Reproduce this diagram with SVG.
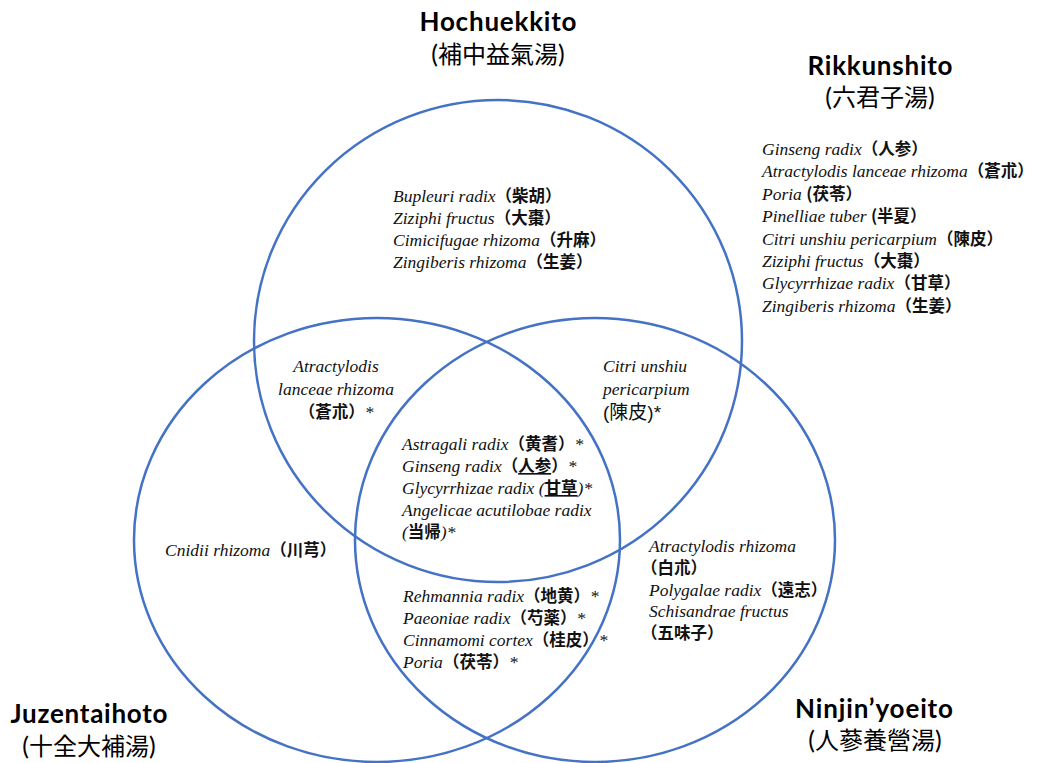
<svg xmlns="http://www.w3.org/2000/svg" width="1037" height="763" viewBox="0 0 1037 763">
<style>
.set{fill:none;stroke:#4472C4;stroke-width:2.5}
.title{font-family:Lato,"Liberation Sans","Noto Sans CJK JP",sans-serif;font-weight:bold;font-size:26px;fill:#000;text-anchor:middle}
.sub{font-family:Lato,"Noto Sans CJK JP",sans-serif;font-size:25px;fill:#000;text-anchor:middle}
.sc{font-family:"Noto Sans CJK JP",sans-serif;font-size:24px}
.b{font-family:"Liberation Serif","Noto Sans CJK JP",serif;font-style:italic;font-size:17.5px;fill:#111}
.cj{font-family:"Noto Sans CJK JP",sans-serif;font-style:normal;font-weight:bold;font-size:16.5px}
.cn{font-family:"Liberation Sans","Noto Sans CJK JP",sans-serif;font-style:normal;font-size:19px;fill:#111}
.u{text-decoration:underline}
</style>
<rect width="1037" height="763" fill="#fff"/>

<g id="hochuekkito">
<ellipse class="set" cx="498" cy="341" rx="244" ry="241"/>
<text class="title" x="498" y="31" textLength="157">Hochuekkito</text>
<text class="sub" x="498" y="63">(<tspan class="sc">補中益氣湯</tspan>)</text>
</g>

<g id="juzentaihoto">
<ellipse class="set" cx="377" cy="540" rx="243" ry="222"/>
<text class="title" x="89" y="723" textLength="157">Juzentaihoto</text>
<text class="sub" x="89" y="755">(<tspan class="sc">十全大補湯</tspan>)</text>
</g>

<g id="ninjinyoeito">
<ellipse class="set" cx="595" cy="540" rx="240" ry="222"/>
<text class="title" x="874" y="718" textLength="158">Ninjin’yoeito</text>
<text class="sub" x="875" y="749">(<tspan class="sc">人蔘養營湯</tspan>)</text>
</g>

<g id="rikkunshito">
<text class="title" x="880" y="75" textLength="145">Rikkunshito</text>
<text class="sub" x="880" y="106">(<tspan class="sc">六君子湯</tspan>)</text>
<text class="b" x="762" y="155">Ginseng radix<tspan class="cj">（人参）</tspan></text>
<text class="b" x="762" y="177.4">Atractylodis lanceae rhizoma<tspan class="cj">（蒼朮）</tspan></text>
<text class="b" x="762" y="199.8">Poria <tspan class="cj">(茯苓）</tspan></text>
<text class="b" x="762" y="222.2">Pinelliae tuber <tspan class="cj">(半夏）</tspan></text>
<text class="b" x="762" y="244.6">Citri unshiu pericarpium<tspan class="cj">（陳皮）</tspan></text>
<text class="b" x="762" y="267">Ziziphi fructus<tspan class="cj">（大棗）</tspan></text>
<text class="b" x="762" y="289.4">Glycyrrhizae radix<tspan class="cj">（甘草）</tspan></text>
<text class="b" x="762" y="311.8">Zingiberis rhizoma<tspan class="cj">（生姜）</tspan></text>
</g>

<g id="hochuekkito-only">
<text class="b" x="393" y="202">Bupleuri radix<tspan class="cj">（柴胡）</tspan></text>
<text class="b" x="393" y="224">Ziziphi fructus<tspan class="cj">（大棗）</tspan></text>
<text class="b" x="393" y="246">Cimicifugae rhizoma<tspan class="cj">（升麻）</tspan></text>
<text class="b" x="393" y="268">Zingiberis rhizoma<tspan class="cj">（生姜）</tspan></text>
</g>

<g id="hochuekkito-juzentaihoto">
<text class="b" x="336" y="372" text-anchor="middle">Atractylodis</text>
<text class="b" x="336" y="395" text-anchor="middle">lanceae rhizoma</text>
<text class="b" x="336" y="418" text-anchor="middle"><tspan class="cj">（蒼朮）</tspan>*</text>
</g>

<g id="hochuekkito-ninjinyoeito">
<text class="b" x="603" y="372">Citri unshiu</text>
<text class="b" x="603" y="395">pericarpium</text>
<text class="cn" x="603" y="419">(<tspan font-family="Noto Sans CJK JP">陳皮</tspan>)*</text>
</g>

<g id="all-three">
<text class="b" x="402" y="450">Astragali radix<tspan class="cj">（黄耆）</tspan>*</text>
<text class="b" x="402" y="472">Ginseng radix<tspan class="cj">（<tspan class="u">人参</tspan>）</tspan>*</text>
<text class="b" x="402" y="494">Glycyrrhizae radix (<tspan class="cj u">甘草</tspan>)*</text>
<text class="b" x="402" y="516">Angelicae acutilobae radix</text>
<text class="b" x="402" y="538">(<tspan class="cj">当帰</tspan>)*</text>
</g>

<g id="juzentaihoto-only">
<text class="b" x="165" y="556">Cnidii rhizoma<tspan class="cj">（川芎）</tspan></text>
</g>

<g id="juzentaihoto-ninjinyoeito">
<text class="b" x="403" y="602">Rehmannia radix<tspan class="cj">（地黄）</tspan>*</text>
<text class="b" x="403" y="624">Paeoniae radix<tspan class="cj">（芍薬）</tspan>*</text>
<text class="b" x="403" y="646">Cinnamomi cortex<tspan class="cj">（桂皮）</tspan>*</text>
<text class="b" x="403" y="668">Poria<tspan class="cj">（茯苓）</tspan>*</text>
</g>

<g id="ninjinyoeito-only">
<text class="b" x="649" y="552">Atractylodis rhizoma</text>
<text class="b" x="641" y="574"><tspan class="cj">（白朮）</tspan></text>
<text class="b" x="649" y="596">Polygalae radix<tspan class="cj">（遠志）</tspan></text>
<text class="b" x="649" y="617">Schisandrae fructus</text>
<text class="b" x="641" y="639"><tspan class="cj">（五味子）</tspan></text>
</g>
</svg>
